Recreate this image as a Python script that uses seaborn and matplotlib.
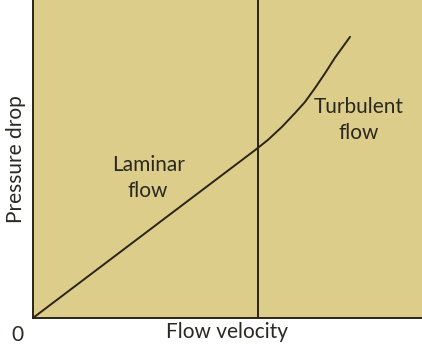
import numpy as np
import pandas as pd
import seaborn as sns
import matplotlib.pyplot as plt

# ------------------ DATA ------------------
velocity = [0.0, 5.71, 6.04, 6.40, 6.74, 6.99, 7.25, 7.51, 7.76, 8.15]
pressure = [0.0, 5.28, 5.60, 6.01, 6.45, 6.79, 7.23, 7.70, 8.18, 8.84]
transition_velocity = 5.78

df = pd.DataFrame({'velocity': velocity, 'pressure': pressure})

# ------------------ STYLE ------------------
sns.set_style('white')
plt.rcParams['font.family'] = ['Lato', 'DejaVu Sans']

bg_color = '#dccd8a'
ink = '#2b2416'
text_color = '#2a2820'

fig = plt.figure(figsize=(4.22, 3.51), dpi=100)
ax = fig.add_axes([0.078, 0.094, 0.922, 0.906])
ax.set_facecolor(bg_color)

# ------------------ PLOT ------------------
sns.lineplot(data=df, x='velocity', y='pressure', sort=False,
             color=ink, linewidth=1.4, ax=ax)
ax.axvline(transition_velocity, color=ink, linewidth=1.4)

ax.set_xlim(0, 10)
ax.set_ylim(0, 10)
ax.set_xticks([])
ax.set_yticks([])

for side in ['top', 'right']:
    ax.spines[side].set_visible(False)
for side in ['left', 'bottom']:
    ax.spines[side].set_color(ink)
    ax.spines[side].set_linewidth(1.4)

font_kw = dict(fontsize=15, color=text_color)

ax.set_xlabel('Flow velocity', labelpad=3, **font_kw)
ax.set_ylabel('Pressure drop', labelpad=5, **font_kw)

ax.text(-0.039, -0.053, '0', transform=ax.transAxes,
        ha='center', va='center', **font_kw)

ax.text(2.96, 4.40, 'Laminar\nflow', ha='center', va='center',
        linespacing=1.35, **font_kw)
ax.text(8.38, 6.23, 'Turbulent\nflow', ha='center', va='center',
        linespacing=1.35, **font_kw)

fig.savefig('out.png', dpi=100)
plt.close(fig)
